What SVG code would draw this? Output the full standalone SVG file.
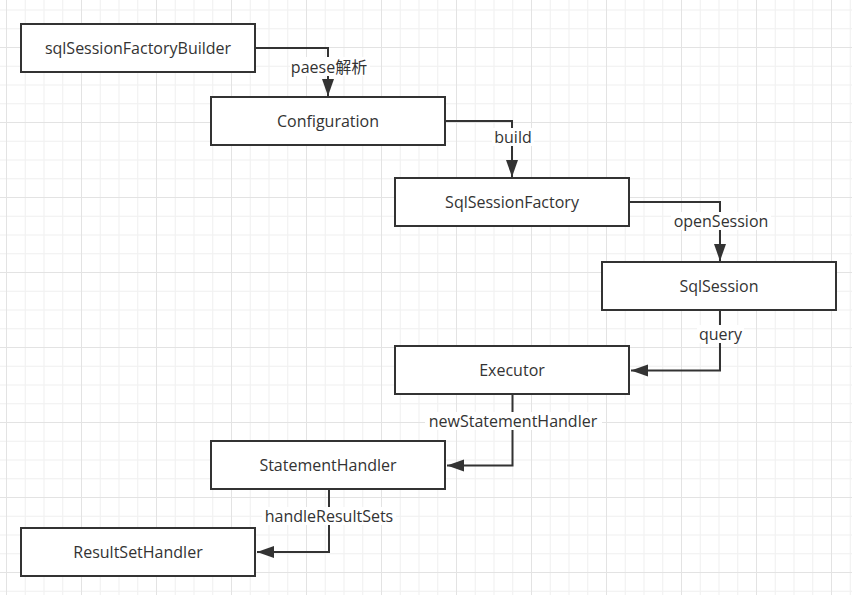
<svg xmlns="http://www.w3.org/2000/svg" width="852" height="595" viewBox="0 0 852 595">
  <style>
    .node rect { fill: #ffffff; stroke: #333333; stroke-width: 2; }
    .node text { font-family: "Open Sans", "Noto Sans CJK SC", sans-serif; font-size: 16px; fill: #333333; text-anchor: middle; dominant-baseline: central; }
    .edge { fill: none; stroke: #333333; stroke-width: 2; }
    .lbl-bg { fill: #ffffff; }
    .lbl { font-family: "Open Sans", "Noto Sans CJK SC", sans-serif; font-size: 16px; fill: #333333; text-anchor: middle; dominant-baseline: central; }
  </style>
  <defs>
    <pattern id="grid" patternUnits="userSpaceOnUse" x="6" y="47" width="75" height="75">
      <rect x="18.75" y="0" width="1" height="75" fill="#f0f0f0"/>
      <rect x="37.5" y="0" width="1" height="75" fill="#f0f0f0"/>
      <rect x="56.25" y="0" width="1" height="75" fill="#f0f0f0"/>
      <rect x="0" y="18.75" width="75" height="1" fill="#f0f0f0"/>
      <rect x="0" y="37.5" width="75" height="1" fill="#f0f0f0"/>
      <rect x="0" y="56.25" width="75" height="1" fill="#f0f0f0"/>
      <rect x="0" y="0" width="1" height="75" fill="#e3e3e3"/>
      <rect x="0" y="0" width="75" height="1" fill="#e3e3e3"/>
    </pattern>
    <marker id="arrow" markerUnits="userSpaceOnUse" markerWidth="18" markerHeight="14" refX="17" refY="6" orient="auto">
      <path d="M0,0 L17,6 L0,12 Z" fill="#333333"/>
    </marker>
  </defs>
  <rect x="0" y="0" width="852" height="595" fill="#ffffff"/>
  <rect x="0" y="0" width="852" height="595" fill="url(#grid)"/>

  <g id="connectors">
    <path class="edge" d="M256,48 H328 V96" marker-end="url(#arrow)"/>
    <path class="edge" d="M446,121 H512 V177" marker-end="url(#arrow)"/>
    <path class="edge" d="M630,202 H720 V261" marker-end="url(#arrow)"/>
    <path class="edge" d="M720,311 V370.5 H631" marker-end="url(#arrow)"/>
    <path class="edge" d="M512.5,395 V465.5 H447" marker-end="url(#arrow)"/>
    <path class="edge" d="M329,490 V552 H257" marker-end="url(#arrow)"/>

    <rect class="lbl-bg" x="290" y="57" width="80" height="19"/>
    <text class="lbl" x="329" y="66.5">paese解析</text>
    <rect class="lbl-bg" x="492" y="128" width="42" height="18"/>
    <text class="lbl" x="513" y="136.5">build</text>
    <rect class="lbl-bg" x="671" y="212" width="100" height="18"/>
    <text class="lbl" x="721" y="220.5">openSession</text>
    <rect class="lbl-bg" x="697" y="325" width="47" height="18"/>
    <text class="lbl" x="720.5" y="334">query</text>
    <rect class="lbl-bg" x="425" y="412" width="177" height="18"/>
    <text class="lbl" x="513" y="420.5">newStatementHandler</text>
    <rect class="lbl-bg" x="262" y="507" width="134" height="18"/>
    <text class="lbl" x="329" y="515.5">handleResultSets</text>
  </g>

  <g id="node-builder" class="node">
    <rect x="21" y="24" width="234" height="48"/>
    <text x="138" y="48">sqlSessionFactoryBuilder</text>
  </g>
  <g id="node-configuration" class="node">
    <rect x="211" y="97" width="234" height="48"/>
    <text x="328" y="121">Configuration</text>
  </g>
  <g id="node-sqlsessionfactory" class="node">
    <rect x="395" y="178" width="234" height="48"/>
    <text x="512" y="202">SqlSessionFactory</text>
  </g>
  <g id="node-sqlsession" class="node">
    <rect x="602" y="262" width="234" height="48"/>
    <text x="719" y="286">SqlSession</text>
  </g>
  <g id="node-executor" class="node">
    <rect x="395" y="346" width="234" height="48"/>
    <text x="512" y="370">Executor</text>
  </g>
  <g id="node-statementhandler" class="node">
    <rect x="211" y="441" width="234" height="48"/>
    <text x="328" y="465">StatementHandler</text>
  </g>
  <g id="node-resultsethandler" class="node">
    <rect x="21" y="528" width="234" height="48"/>
    <text x="138" y="552">ResultSetHandler</text>
  </g>
</svg>
